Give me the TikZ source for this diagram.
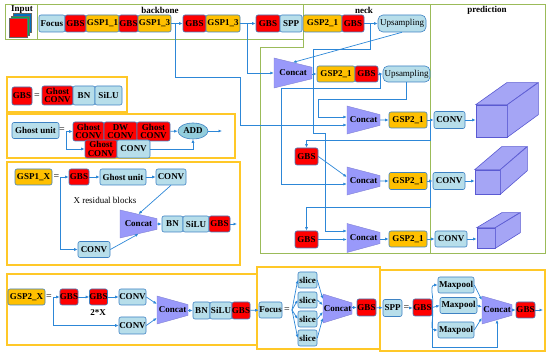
\documentclass[tikz,border=0pt]{standalone}
\usepackage{fontspec}
\setmainfont{Liberation Serif}
\usetikzlibrary{arrows.meta,shapes.geometric}
\definecolor{gbsred}{RGB}{255,0,0}
\definecolor{lblue}{RGB}{183,222,234}
\definecolor{gspor}{RGB}{255,192,0}
\definecolor{bord}{RGB}{62,130,195}
\definecolor{lncol}{RGB}{45,135,215}
\definecolor{catcol}{RGB}{153,153,250}
\definecolor{cubecol}{RGB}{165,165,245}
\definecolor{cubeln}{RGB}{90,90,210}
\definecolor{grnln}{RGB}{155,187,89}
\definecolor{orgln}{RGB}{255,200,40}
\tikzset{
  wd/.style={minimum width=#1pt},
  ht/.style={minimum height=#1pt},
  csize/.style 2 args={minimum height=#1pt, minimum width=#2pt},
  box/.style={draw=bord, line width=0.6pt, rounded corners=2pt, inner sep=0pt,
    minimum height=17pt, align=center, font=\fontsize{9}{8.5}\selectfont\bfseries},
  gbs/.style={box, fill=gbsred},
  blu/.style={box, fill=lblue},
  gsp/.style={box, fill=gspor},
  ups/.style={blu, rounded corners=5pt, font=\fontsize{9}{9}\selectfont},
  concat/.style={trapezium, trapezium angle=80, shape border rotate=270,
    trapezium stretches=true, fill=catcol, draw=catcol!85!black, line width=0.4pt,
    inner sep=0pt, font=\fontsize{9}{9}\selectfont\bfseries},
  cube/.style={fill=cubecol, draw=cubeln, line width=0.6pt},
  lbl/.style={font=\fontsize{9}{9}\selectfont\bfseries, inner sep=0pt},
  ln/.style={draw=lncol, line width=0.7pt},
  ar/.style={ln, -{Latex[length=3.5pt,width=3pt]}},
  grn/.style={draw=grnln, line width=1pt},
  org/.style={draw=orgln, line width=1.2pt}
}
\begin{document}
\begin{tikzpicture}[x=1pt,y=-1pt]
  \useasboundingbox (0,0) rectangle (550,355);

  % frames
  \draw[grn] (5,5) rectangle (37,40);
  \draw[grn] (37,5) rectangle (303,40);
  \draw[grn] (303,5) -- (430,5) -- (430,254) -- (260,254) -- (260,48) -- (303,48) -- cycle;
  \draw[grn] (430,5) rectangle (545,254);
  \draw[org] (7,77) rectangle (127,112);
  \draw[org] (7,114) rectangle (235,158);
  \draw[org] (7,162) rectangle (240,265);
  \draw[org] (7,274) rectangle (257,345);
  \draw[org] (257,267) rectangle (380,349);
  \draw[org] (380,270) rectangle (545,351);

  \node[lbl] (tin) at (22,10) {Input};
  \node[lbl] (tbb) at (160,10) {backbone};
  \node[lbl] (tnk) at (364,10) {neck};
  \node[lbl] (tpr) at (487,10) {prediction};

  % input
  \filldraw[fill={rgb,255:red,0;green,112;blue,192}, draw=black!60, line width=0.3pt] (13,13) rectangle (31,32);
  \filldraw[fill={rgb,255:red,0;green,176;blue,80}, draw=black!60, line width=0.3pt] (11,16) rectangle (29,35);
  \filldraw[fill=gbsred, draw=black!60, line width=0.3pt] (9,18) rectangle (27,37);

  % backbone
  \node[blu, wd=26] (focus) at (52,23.5) {Focus};
  \node[gbs, wd=21] (gbs1) at (75.5,23.5) {GBS};
  \node[gsp, wd=33] (gsp11) at (102.5,23.5) {GSP1\_1};
  \node[gbs, wd=19] (gbs2) at (128.5,23.5) {GBS};
  \node[gsp, wd=33] (gsp13a) at (154.5,23.5) {GSP1\_3};
  \node[gbs, wd=23] (gbs3) at (194.5,23.5) {GBS};
  \node[gsp, wd=34] (gsp13b) at (223,23.5) {GSP1\_3};
  \node[gbs, wd=24] (gbs4) at (268,23.5) {GBS};
  \node[blu, wd=22] (spp) at (291,23.5) {SPP};
  \node[gsp, wd=39] (gsp21a) at (322.5,23.5) {GSP2\_1};
  \node[gbs, wd=22] (gbs5) at (353,23.5) {GBS};
  \node[ups, wd=48] (ups1) at (402,23.5) {Upsampling};
  \draw[ar] (gsp13a) -- (gbs3);
  \draw[ar] (gsp13b) -- (gbs4);
  \draw[ar] (gbs5) -- (ups1);
  \coordinate (j1) at (175,23.5);
  \coordinate (j2) at (247,23.5);
  \coordinate (j3) at (370,23.5);

  % neck
  \node[concat, csize={38}{30}] (cat1) at (293,73) {Concat};
  \node[gsp, wd=38, ht=16] (gsp21b) at (336,74) {GSP2\_1};
  \node[gbs, wd=23, ht=16] (gbs6) at (366.5,74) {GBS};
  \node[ups, wd=47, ht=16] (ups2) at (406.5,74) {Upsampling};
  \node[concat, csize={33}{28}] (cat2) at (363.5,120) {Concat};
  \node[gsp, wd=38, ht=16] (gsp21c) at (408,120) {GSP2\_1};
  \node[gbs, wd=23] (gbs7) at (306.5,156.5) {GBS};
  \node[concat, csize={33}{28}] (cat3) at (363.5,181) {Concat};
  \node[gsp, wd=38] (gsp21d) at (408,181) {GSP2\_1};
  \node[gbs, wd=23] (gbs8) at (306.5,239.5) {GBS};
  \node[concat, csize={33}{29}] (cat4) at (363.5,238) {Concat};
  \node[gsp, wd=38, ht=16] (gsp21e) at (408,239) {GSP2\_1};

  \draw[ar] (j1) |- (240,77) |- (cat2.west |- 0,125);
  \draw[ar] (j2) |- (cat1.west);
  \draw[ar] (j3) |- (313,49) |- (325,133) |- (cat4.west |- 0,231);
  \draw[ar] (ups1.south) -- (cat1.north);
  \draw[ar] (cat1.east |- gsp21b) -- (gsp21b);
  \draw[ar] (gbs6) -- (ups2);
  \coordinate (j4) at (380.5,74);
  \draw[ar] (j4) |- (281,88) |- (cat3.west |- 0,184);
  \draw[ar] (ups2.south) |- (318,99) |- (cat2.west |- 0,117);
  \draw[ar] (cat2) -- (gsp21c);
  \coordinate (j5) at (430.5,120);
  \draw[ar] (j5) |- (306.5,140) -- (gbs7.north);
  \draw[ar] (gbs7.east) -- (cat3.west |- 0,177);
  \draw[ar] (cat3) -- (gsp21d);
  \coordinate (j6) at (430,181);
  \draw[ar] (j6) |- (306.5,207) -- (gbs8.north);
  \draw[ar] (gbs8.east) -- (gbs8.east -| cat4.west);
  \draw[ar] (cat4.east |- gsp21e) -- (gsp21e);

  % prediction
  \node[blu, wd=31] (conv2) at (449.5,120) {CONV};
  \node[blu, wd=32] (conv3) at (449,181) {CONV};
  \node[blu, wd=32, ht=16] (conv4) at (451,239) {CONV};
  \node[cube, minimum width=31pt, minimum height=32pt] (pred1) at (491.5,121) {};
  \filldraw[cube] (pred1.north west) -- ++(31,-22) -- ++(31,0) -- (pred1.north east) -- cycle;
  \filldraw[cube] (pred1.north east) -- ++(31,-22) -- ++(0,32) -- (pred1.south east) -- cycle;
  \node[cube, minimum width=25pt, minimum height=24pt] (pred2) at (487.5,182) {};
  \filldraw[cube] (pred2.north west) -- ++(27,-23) -- ++(25,0) -- (pred2.north east) -- cycle;
  \filldraw[cube] (pred2.north east) -- ++(27,-23) -- ++(0,24) -- (pred2.south east) -- cycle;
  \node[cube, minimum width=18pt, minimum height=20pt] (pred3) at (486,238) {};
  \filldraw[cube] (pred3.north west) -- ++(25,-15) -- ++(18,0) -- (pred3.north east) -- cycle;
  \filldraw[cube] (pred3.north east) -- ++(25,-15) -- ++(0,20) -- (pred3.south east) -- cycle;
  \draw[ar] (gsp21c) -- (conv2);
  \draw[ar] (gsp21d) -- (conv3);
  \draw[ar] (gsp21e) -- (conv4);
  \draw[ar] (conv2.east) -- (conv2.east -| pred1.west);
  \draw[ar] (conv3.east) -- (conv3.east -| pred2.west);
  \draw[ar] (conv4.east) -- (conv4.east -| pred3.west);

  % GBS
  \node[gbs, wd=20, ht=18] (gbsd) at (22,96) {GBS};
  \node (eq1) at (37,96) {=};
  \node[gbs, wd=31, ht=19] (gcd) at (57.5,95.5) {Ghost\\CONV};
  \node[blu, wd=22, ht=19] (bnd) at (84,95.5) {BN};
  \node[blu, wd=27, ht=19] (silud) at (108.5,95.5) {SiLU};

  % Ghost unit
  \node[blu, wd=47, ht=16] (gu) at (35.5,130.5) {Ghost unit};
  \node (eq2) at (62,130.5) {=};
  \coordinate (gu0) at (66,131.5);
  \node[gbs, wd=31, ht=19] (gc1) at (88.5,131.5) {Ghost\\CONV};
  \node[gbs, wd=33, ht=19] (dw) at (120.5,131.5) {DW\\CONV};
  \node[gbs, wd=33, ht=19] (gc3) at (153.5,131.5) {Ghost\\CONV};
  \node[ellipse, draw=bord, fill={rgb,255:red,146;green,205;blue,220}, line width=0.6pt,
    minimum width=30pt, minimum height=16pt, inner sep=0pt,
    font=\fontsize{9}{9}\selectfont\bfseries] (add) at (193,131) {ADD};
  \node[gbs, wd=32, ht=18] (gc2) at (101,149) {Ghost\\CONV};
  \node[blu, wd=33, ht=18] (cvg) at (133.5,149) {CONV};
  \coordinate (addo) at (222,131);
  \draw[ar] (gu0) -- (gc1);
  \draw[ar] (gu0) |- (gc2);
  \draw[ar] (gc3) -- (add);
  \draw[ar] (add) -- (addo);
  \draw[ar] (cvg.east) -| (add.south);

  % GSP1_X
  \node[gsp, wd=37, ht=16] (gsp1x) at (33.5,177) {GSP1\_X};
  \node (eq3) at (56.5,177) {=};
  \coordinate (gx0) at (60,177);
  \node[gbs, wd=20, ht=16] (gbsx) at (79,177) {GBS};
  \node[blu, wd=46, ht=16] (gux) at (123,177) {Ghost unit};
  \node[blu, wd=30, ht=16] (cvt) at (171,177) {CONV};
  \node[font=\fontsize{9}{9}\selectfont] (resx) at (105,200) {X residual blocks};
  \node[blu, wd=32, ht=16] (cvb) at (94,249.5) {CONV};
  \node[concat, csize={37}{28}] (catx) at (138.5,224) {Concat};
  \node[blu, wd=21, ht=16] (bnx) at (172.5,224) {BN};
  \node[blu, wd=26, ht=16] (silux) at (196,224) {SiLU};
  \node[gbs, wd=21, ht=16] (gbsxo) at (219.5,224) {GBS};
  \coordinate (gxo) at (237,224);
  \draw[ar] (gx0) -- (gbsx);
  \draw[ar] (gx0) |- (cvb);
  \draw[ar] (gbsx) -- (gux);
  \draw[ar] (gux) -- (cvt);
  \draw[ar] (cvt.south) -- (catx.north);
  \draw[ar] (cvb.east) -- (catx.south);
  \draw[ar] (catx) -- (bnx);
  \draw[ar] (gbsxo) -- (gxo);

  % GSP2_X
  \node[gsp, wd=37, ht=16] (gsp2x) at (26.5,297) {GSP2\_X};
  \node (eq4) at (49,297) {=};
  \coordinate (gy0) at (53,297);
  \node[gbs, wd=18, ht=16] (gbsy1) at (69,297) {GBS};
  \node[gbs, wd=17, ht=16] (gbsy2) at (98.5,297) {GBS};
  \node[blu, wd=27, ht=16] (cvy1) at (132.5,297) {CONV};
  \node[lbl] (twox) at (98,313) {2*X};
  \node[blu, wd=27, ht=17] (cvy2) at (132.5,325.5) {CONV};
  \node[concat, csize={31}{28}] (caty) at (172.5,310) {Concat};
  \node[blu, wd=17, ht=17] (bny) at (201.5,310.5) {BN};
  \node[blu, wd=22, ht=17] (siluy) at (221,310.5) {SiLU};
  \node[gbs, wd=18, ht=17] (gbsy3) at (241,310.5) {GBS};
  \draw[ar] (gy0) -- (gbsy1);
  \draw[ar] (gy0) |- (cvy2);
  \draw[ar] (gbsy1) -- (gbsy2);
  \draw[ar] (gbsy2) -- (cvy1);
  \draw[ar] (cvy1.east) -- (caty.west |- 0,304);
  \draw[ar] (cvy2.east) -- (caty.west |- 0,318);
  \draw[ar] (caty.east |- bny) -- (bny);

  % Focus
  \node[blu, wd=23, ht=16] (focus2) at (270.5,310) {Focus};
  \node (eq5) at (287,310) {=};
  \coordinate (fo0) at (292,310);
  \foreach \s/\y in {1/280,2/300,3/319,4/338}
    \node[blu, wd=19, ht=16] (sl\s) at (307.5,\y) {slice};
  \node[concat, csize={29}{29}] (catf) at (337.5,308.5) {Concat};
  \node[gbs, wd=19, ht=17] (gbsf) at (366.5,307.5) {GBS};
  \draw[ar] (gbsy3) -- (focus2);
  \foreach \s/\y in {1/299,2/305,3/312,4/318} {
    \draw[ar] (fo0) -- (sl\s.west);
    \draw[ar] (sl\s.east) -- (catf.west |- 0,\y);
  }
  \draw[ar] (catf.east |- gbsf) -- (gbsf);

  % SPP
  \node[blu, wd=19, ht=17] (spp2) at (392.5,308) {SPP};
  \node (eq6) at (406.5,308) {=};
  \coordinate (sp0) at (410,308);
  \node[gbs, wd=19, ht=17] (gbss) at (422.5,307.5) {GBS};
  \node[blu, wd=36, ht=16] (mp1) at (456,285) {Maxpool};
  \node[blu, wd=37, ht=16] (mp2) at (458.5,305.5) {Maxpool};
  \node[blu, wd=36, ht=16] (mp3) at (456,330) {Maxpool};
  \node[concat, csize={30}{28}] (cats) at (497,310) {Concat};
  \node[gbs, wd=19, ht=16] (gbso) at (525.5,310) {GBS};
  \coordinate (spo) at (543,310);
  \draw[ar] (gbsf) -- (spp2);
  \draw[ar] (sp0) -- (gbss);
  \draw[ar] (gbss.east) to[out=75,in=180] (mp1.west);
  \draw[ar] (gbss.east) -- (mp2.west);
  \draw[ar] (gbss.east) to[out=-75,in=180] (mp3.west);
  \draw[ar] (gbss.east) -- ++(0,39.5) -| (cats.south);
  \draw[ar] (mp1.east) -- (cats.west |- 0,300);
  \draw[ar] (mp2.east) -- (cats.west |- 0,307);
  \draw[ar] (mp3.east) -- (cats.west |- 0,318);
  \draw[ar] (cats.east |- gbso) -- (gbso);
  \draw[ar] (gbso) -- (spo);
\end{tikzpicture}
\end{document}
